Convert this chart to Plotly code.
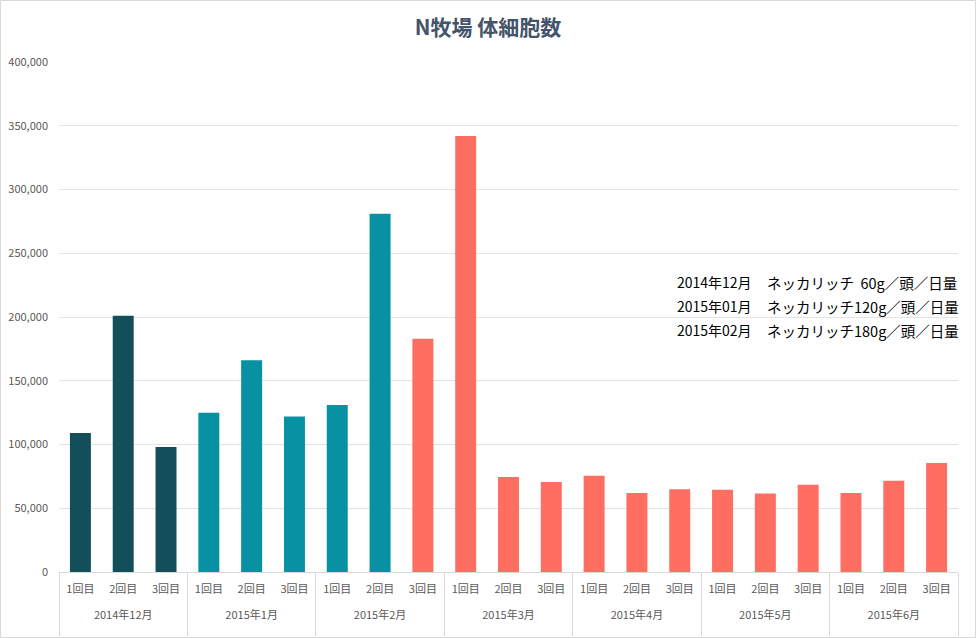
import plotly.graph_objects as go

months = ["2014年12月", "2015年1月", "2015年2月", "2015年3月", "2015年4月", "2015年5月", "2015年6月"]
rounds = ["1回目", "2回目", "3回目"]
values = [109000, 201000, 98000,
          125000, 166000, 122000,
          131000, 281000, 183000,
          342000, 74500, 70600,
          75500, 62000, 65000,
          64500, 61500, 68500,
          62000, 71500, 85500]
note_periods = ["2014年12月", "2015年01月", "2015年02月"]
note_texts = ["ネッカリッチ  60g／頭／日量", "ネッカリッチ120g／頭／日量", "ネッカリッチ180g／頭／日量"]

# colour groups (style): first 3 bars dark, next 5 teal, rest coral
DARK, TEAL, CORAL = "#134f5b", "#0791a3", "#fe6f61"
colors = [DARK] * 3 + [TEAL] * 5 + [CORAL] * (len(values) - 8)

# outer labels padded with line breaks so they sit lower and dividers run longer
x_outer = ["<br>" + m + "<br>&nbsp;" for m in months for _ in rounds]
x_inner = [r for _ in months for r in rounds]

W, H = 976, 638
L, R, T, B = 59, 18, 62, 66
pw, ph = W - L - R, H - T - B

def px(x):
    return (x - L) / pw

def py(y):
    return (H - B - y) / ph

fig = go.Figure(go.Bar(
    x=[x_outer, x_inner], y=values,
    marker=dict(color=colors, line=dict(width=0)),
    width=0.49,
))

ann = []
for i, (p, t) in enumerate(zip(note_periods, note_texts)):
    yy = 282 + i * 24
    ann.append(dict(x=px(675), y=py(yy), xref="paper", yref="paper", text=p, showarrow=False,
                    xanchor="left", yanchor="middle",
                    font=dict(size=14, color="#000000", family="Noto Sans CJK JP")))
    ann.append(dict(x=px(765), y=py(yy), xref="paper", yref="paper", text=t, showarrow=False,
                    xanchor="left", yanchor="middle",
                    font=dict(size=14.5, color="#000000", family="Noto Sans CJK JP")))

fig.update_layout(
    width=W, height=H,
    margin=dict(l=L, r=R, t=T, b=B, autoexpand=False),
    paper_bgcolor="white", plot_bgcolor="white",
    font=dict(family="Noto Sans CJK JP", size=11, color="#595959"),
    title=dict(text="<b>N牧場 体細胞数</b>", x=0.5, xanchor="center", y=1 - 28 / H, yanchor="middle",
               font=dict(size=21, color="#44546a", family="Noto Sans CJK JP")),
    showlegend=False,
    bargap=0.51,
    annotations=ann,
    shapes=[dict(type="rect", xref="paper", yref="paper",
                 x0=px(0.5), x1=px(W - 0.5), y0=py(H - 0.5), y1=py(0.5),
                 line=dict(color="#d9d9d9", width=1), fillcolor="rgba(0,0,0,0)", layer="below")],
)
fig.update_xaxes(
    type="multicategory", showgrid=False, showline=True, linecolor="#d9d9d9", linewidth=1,
    showdividers=True, dividercolor="#d9d9d9", dividerwidth=1,
    tickfont=dict(size=11, color="#595959"), ticks="", ticklabelstandoff=7,
)
fig.update_yaxes(
    range=[0, 400000], dtick=50000, tickformat=",d", showgrid=True, gridcolor="#e3e3e3", gridwidth=1,
    zeroline=False, showline=False, ticks="", ticklabelstandoff=10,
    tickfont=dict(size=11, color="#595959"),
)

fig.write_html("out.html", config={"displayModeBar": False},
               post_script="document.body.style.margin='0';")
